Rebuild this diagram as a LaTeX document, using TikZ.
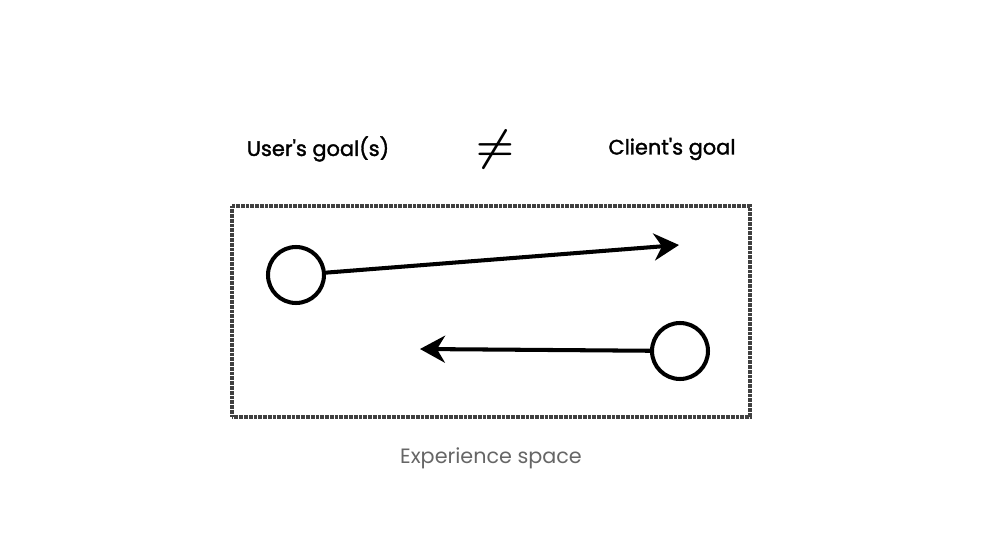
\documentclass[tikz,border=0pt]{standalone}
\usepackage{amsmath}
\usepackage{fontspec}
\setmainfont{Poppins}
\newfontfamily\goalfont[FakeBold=1.6]{Poppins}
\usetikzlibrary{arrows.meta,positioning,calc}

\begin{document}
\begin{tikzpicture}[
  x=0.02cm, y=-0.02cm,
  goal/.style={inner sep=0pt, anchor=center, font=\goalfont\fontsize{11.9}{14}\selectfont},
  spot/.style={draw, circle, line width=2.3pt, minimum size=1.12cm, inner sep=0pt},
  arr/.style={-{Stealth[length=5mm, width=5.4mm, inset=1.6mm]}, line width=2.3pt},
  frame/.style={draw=black!75, line width=2.6pt, dash pattern=on 0.5pt off 0.22pt}
]
\useasboundingbox (0,0) rectangle (1001,550);
\node[goal] (user) at (318,149) {User\textquotesingle s goal(s)};
\node[inner sep=0pt] (neq) at (495,150) {\fontsize{31}{34}\selectfont$\boldsymbol{\neq}$};
\node[goal] (client) at (672,149) {Client\textquotesingle s goal};
\draw[frame] (232,206) rectangle (750,417);
\node[spot] (a) at (296,275) {};
\node[spot] (b) at (680,351) {};
\coordinate (atip) at (679,245);
\coordinate (btip) at (420,349);
\draw[arr] (a) -- (atip);
\draw[arr] (b) -- (btip);
\node[inner sep=0pt, text=black!60, font=\fontsize{11.8}{14}\selectfont] (space) at (491,458) {Experience space};
\end{tikzpicture}
\end{document}
